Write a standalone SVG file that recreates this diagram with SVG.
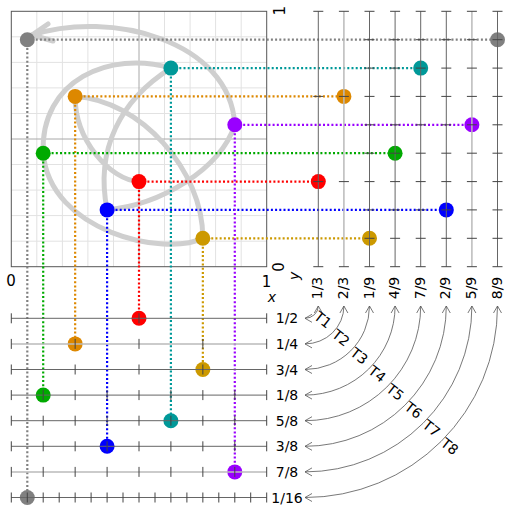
<svg xmlns="http://www.w3.org/2000/svg" xmlns:xlink="http://www.w3.org/1999/xlink" width="514" height="514" viewBox="0 0 514 514">
<style>
text{font-family:"DejaVu Sans","Liberation Sans",sans-serif;font-size:14px;fill:#000}
.grid{stroke:#e2e2e2;stroke-width:1;fill:none}
.grid2{stroke:#a8a8a8;stroke-width:1;fill:none}
.frame{stroke:#555;stroke-width:1;fill:none}
.curve{stroke:#cfcfcf;stroke-width:5;fill:none;stroke-linecap:round;stroke-linejoin:round}
.dot{stroke-width:2.2;stroke-dasharray:2 2.2;fill:none}
.axd{stroke:#666;stroke-width:1;fill:none}
.axl{stroke:#bbb;stroke-width:1.5;fill:none}
.tk{stroke:#444;stroke-width:1;fill:none}
.arr{stroke:#555;stroke-width:0.8;fill:none;marker-start:url(#ah);marker-end:url(#ah)}
.tl{font-size:15px}
</style>
<defs>
<path id="c3" d="M-5,11.3h10M-5,96.4h10M-5,181.6h10M-5,266.7h10"/>
<path id="c9" d="M-5,11.3h10M-5,39.7h10M-5,68.1h10M-5,96.4h10M-5,124.8h10M-5,153.2h10M-5,181.6h10M-5,209.9h10M-5,238.3h10M-5,266.7h10"/>
<path id="r2" d="M11.3,-5v10M139,-5v10M266.7,-5v10"/>
<path id="r4" d="M11.3,-5v10M75.15,-5v10M139,-5v10M202.85,-5v10M266.7,-5v10"/>
<path id="r8" d="M11.3,-5v10M43.2,-5v10M75.15,-5v10M107.1,-5v10M139,-5v10M170.9,-5v10M202.85,-5v10M234.8,-5v10M266.7,-5v10"/>
<path id="r16" d="M11.3,-5v10M27.3,-5v10M43.2,-5v10M59.2,-5v10M75.15,-5v10M91.1,-5v10M107.1,-5v10M123,-5v10M139,-5v10M155,-5v10M170.9,-5v10M186.9,-5v10M202.85,-5v10M218.8,-5v10M234.8,-5v10M250.7,-5v10M266.7,-5v10"/>
<marker id="ah" viewBox="-8 -5 9 10" refX="0" refY="0" markerWidth="9" markerHeight="10" markerUnits="userSpaceOnUse" orient="auto-start-reverse">
<path d="M-7,-4L0,0L-7,4" fill="none" stroke="#555" stroke-width="0.8"/>
</marker>
</defs>
<rect width="514" height="514" fill="#fff"/>

<g id="square">
<path class="grid" d="M36.8,11.3V266.7M62.4,11.3V266.7M87.9,11.3V266.7M113.5,11.3V266.7M164.5,11.3V266.7M190.1,11.3V266.7M215.6,11.3V266.7M241.2,11.3V266.7M11.3,36.8H266.7M11.3,62.4H266.7M11.3,87.9H266.7M11.3,113.5H266.7M11.3,164.5H266.7M11.3,190.1H266.7M11.3,215.6H266.7M11.3,241.2H266.7"/>
<path class="grid2" d="M139,11.3V266.7M11.3,139H266.7"/>
<rect class="frame" x="11.3" y="11.3" width="255.4" height="255.4"/>
</g>

<g id="path-curve">
<path class="curve" d="M139,181.6C110,180 75,140 75.15,96.4C140,100 203,170 202.85,238.3C165,257 50,232 43.2,153.2C40,80 110,50 170.9,68.1C120,100 95,150 107.1,209.9C160,205 220,170 234.8,124.8C230,40 110,10 32,35"/>
<path class="curve" d="M48,24L32,35L53,41"/>
</g>

<g id="connectors">
<g class="dot">
<path stroke="#ff0000" d="M139,181.6H318.3M139,181.6V318.3"/>
<path stroke="#dd8800" d="M75.15,96.4H343.9M75.15,96.4V343.9"/>
<path stroke="#cc9900" d="M202.85,238.3H369.5M202.85,238.3V369.5"/>
<path stroke="#00aa00" d="M43.2,153.2H395.1M43.2,153.2V395.1"/>
<path stroke="#009999" d="M170.9,68.1H420.7M170.9,68.1V420.7"/>
<path stroke="#0000ff" d="M107.1,209.9H446.3M107.1,209.9V446.3"/>
<path stroke="#9900ff" d="M234.8,124.8H471.9M234.8,124.8V471.9"/>
<path stroke="#808080" d="M27.3,39.7H497.5M27.3,39.7V497.5"/>
</g>
<path class="arr" d="M318.3,306A13.3,12.3 0 0 1 305,318.3"/>
<path class="arr" d="M343.9,306A38.9,37.9 0 0 1 305,343.9"/>
<path class="arr" d="M369.5,306A64.5,63.5 0 0 1 305,369.5"/>
<path class="arr" d="M395.1,306A90.1,89.1 0 0 1 305,395.1"/>
<path class="arr" d="M420.7,306A115.7,114.7 0 0 1 305,420.7"/>
<path class="arr" d="M446.3,306A141.3,140.3 0 0 1 305,446.3"/>
<path class="arr" d="M471.9,306A166.9,165.9 0 0 1 305,471.9"/>
<path class="arr" d="M497.5,306A192.5,191.5 0 0 1 305,497.5"/>
</g>

<g id="p1" fill="#ff0000"><circle cx="139" cy="181.6" r="7.5"/><circle cx="318.3" cy="181.6" r="7.5"/><circle cx="139" cy="318.3" r="7.5"/></g>
<g id="p2" fill="#dd8800"><circle cx="75.15" cy="96.4" r="7.5"/><circle cx="343.9" cy="96.4" r="7.5"/><circle cx="75.15" cy="343.9" r="7.5"/></g>
<g id="p3" fill="#cc9900"><circle cx="202.85" cy="238.3" r="7.5"/><circle cx="369.5" cy="238.3" r="7.5"/><circle cx="202.85" cy="369.5" r="7.5"/></g>
<g id="p4" fill="#00aa00"><circle cx="43.2" cy="153.2" r="7.5"/><circle cx="395.1" cy="153.2" r="7.5"/><circle cx="43.2" cy="395.1" r="7.5"/></g>
<g id="p5" fill="#009999"><circle cx="170.9" cy="68.1" r="7.5"/><circle cx="420.7" cy="68.1" r="7.5"/><circle cx="170.9" cy="420.7" r="7.5"/></g>
<g id="p6" fill="#0000ff"><circle cx="107.1" cy="209.9" r="7.5"/><circle cx="446.3" cy="209.9" r="7.5"/><circle cx="107.1" cy="446.3" r="7.5"/></g>
<g id="p7" fill="#9900ff"><circle cx="234.8" cy="124.8" r="7.5"/><circle cx="471.9" cy="124.8" r="7.5"/><circle cx="234.8" cy="471.9" r="7.5"/></g>
<g id="p8" fill="#808080"><circle cx="27.3" cy="39.7" r="7.5"/><circle cx="497.5" cy="39.7" r="7.5"/><circle cx="27.3" cy="497.5" r="7.5"/></g>

<g id="y-panel">
<path class="axd" d="M318.3,11.3V266.7M369.5,11.3V266.7M395.1,11.3V266.7M420.7,11.3V266.7M446.3,11.3V266.7M497.5,11.3V266.7"/>
<path class="axl" d="M343.9,11.3V266.7M471.9,11.3V266.7"/>
<g class="tk">
<use xlink:href="#c3" x="318.3"/><use xlink:href="#c3" x="343.9"/>
<use xlink:href="#c9" x="369.5"/><use xlink:href="#c9" x="395.1"/><use xlink:href="#c9" x="420.7"/><use xlink:href="#c9" x="446.3"/><use xlink:href="#c9" x="471.9"/><use xlink:href="#c9" x="497.5"/>
</g>
</g>

<g id="x-panel">
<path class="axd" d="M11.3,318.3H266.7M11.3,369.5H266.7M11.3,395.1H266.7M11.3,420.7H266.7M11.3,446.3H266.7M11.3,497.5H266.7"/>
<path class="axl" d="M11.3,343.9H266.7M11.3,471.9H266.7"/>
<g class="tk">
<use xlink:href="#r2" y="318.3"/><use xlink:href="#r4" y="343.9"/><use xlink:href="#r4" y="369.5"/>
<use xlink:href="#r8" y="395.1"/><use xlink:href="#r8" y="420.7"/><use xlink:href="#r8" y="446.3"/><use xlink:href="#r8" y="471.9"/>
<use xlink:href="#r16" y="497.5"/>
</g>
</g>

<g id="labels">
<text x="11" y="286" text-anchor="middle" style="font-size:15px">0</text>
<text x="266.5" y="286.5" text-anchor="middle" style="font-size:15px">1</text>
<text x="272" y="302.3" text-anchor="middle" font-style="italic">x</text>
<text transform="translate(283.5,267) rotate(-90)" text-anchor="middle" style="font-size:15px">0</text>
<text transform="translate(285,10.7) rotate(-90)" text-anchor="middle" style="font-size:15px">1</text>
<text transform="translate(299.4,275.8) rotate(-90)" text-anchor="middle" font-style="italic">y</text>
<g text-anchor="middle">
<text transform="translate(322.3,288) rotate(-90)">1/3</text>
<text transform="translate(347.9,288) rotate(-90)">2/3</text>
<text transform="translate(373.5,288) rotate(-90)">1/9</text>
<text transform="translate(399.1,288) rotate(-90)">4/9</text>
<text transform="translate(424.7,288) rotate(-90)">7/9</text>
<text transform="translate(450.3,288) rotate(-90)">2/9</text>
<text transform="translate(475.9,288) rotate(-90)">5/9</text>
<text transform="translate(501.5,288) rotate(-90)">8/9</text>
<text x="287" y="323.4">1/2</text>
<text x="287" y="349">1/4</text>
<text x="287" y="374.6">3/4</text>
<text x="287" y="400.2">1/8</text>
<text x="287" y="425.8">5/8</text>
<text x="287" y="451.4">3/8</text>
<text x="287" y="477">7/8</text>
<text x="287" y="502.6">1/16</text>
<g class="tl">
<text transform="translate(322.9,319.7) rotate(38)" y="5">T1</text>
<text transform="translate(341,337.8) rotate(38)" y="5">T2</text>
<text transform="translate(359.1,355.9) rotate(38)" y="5">T3</text>
<text transform="translate(377.2,374) rotate(38)" y="5">T4</text>
<text transform="translate(395.3,392.1) rotate(38)" y="5">T5</text>
<text transform="translate(413.4,410.2) rotate(38)" y="5">T6</text>
<text transform="translate(431.5,428.3) rotate(38)" y="5">T7</text>
<text transform="translate(449.6,446.4) rotate(38)" y="5">T8</text>
</g>
</g>
</g>
</svg>
